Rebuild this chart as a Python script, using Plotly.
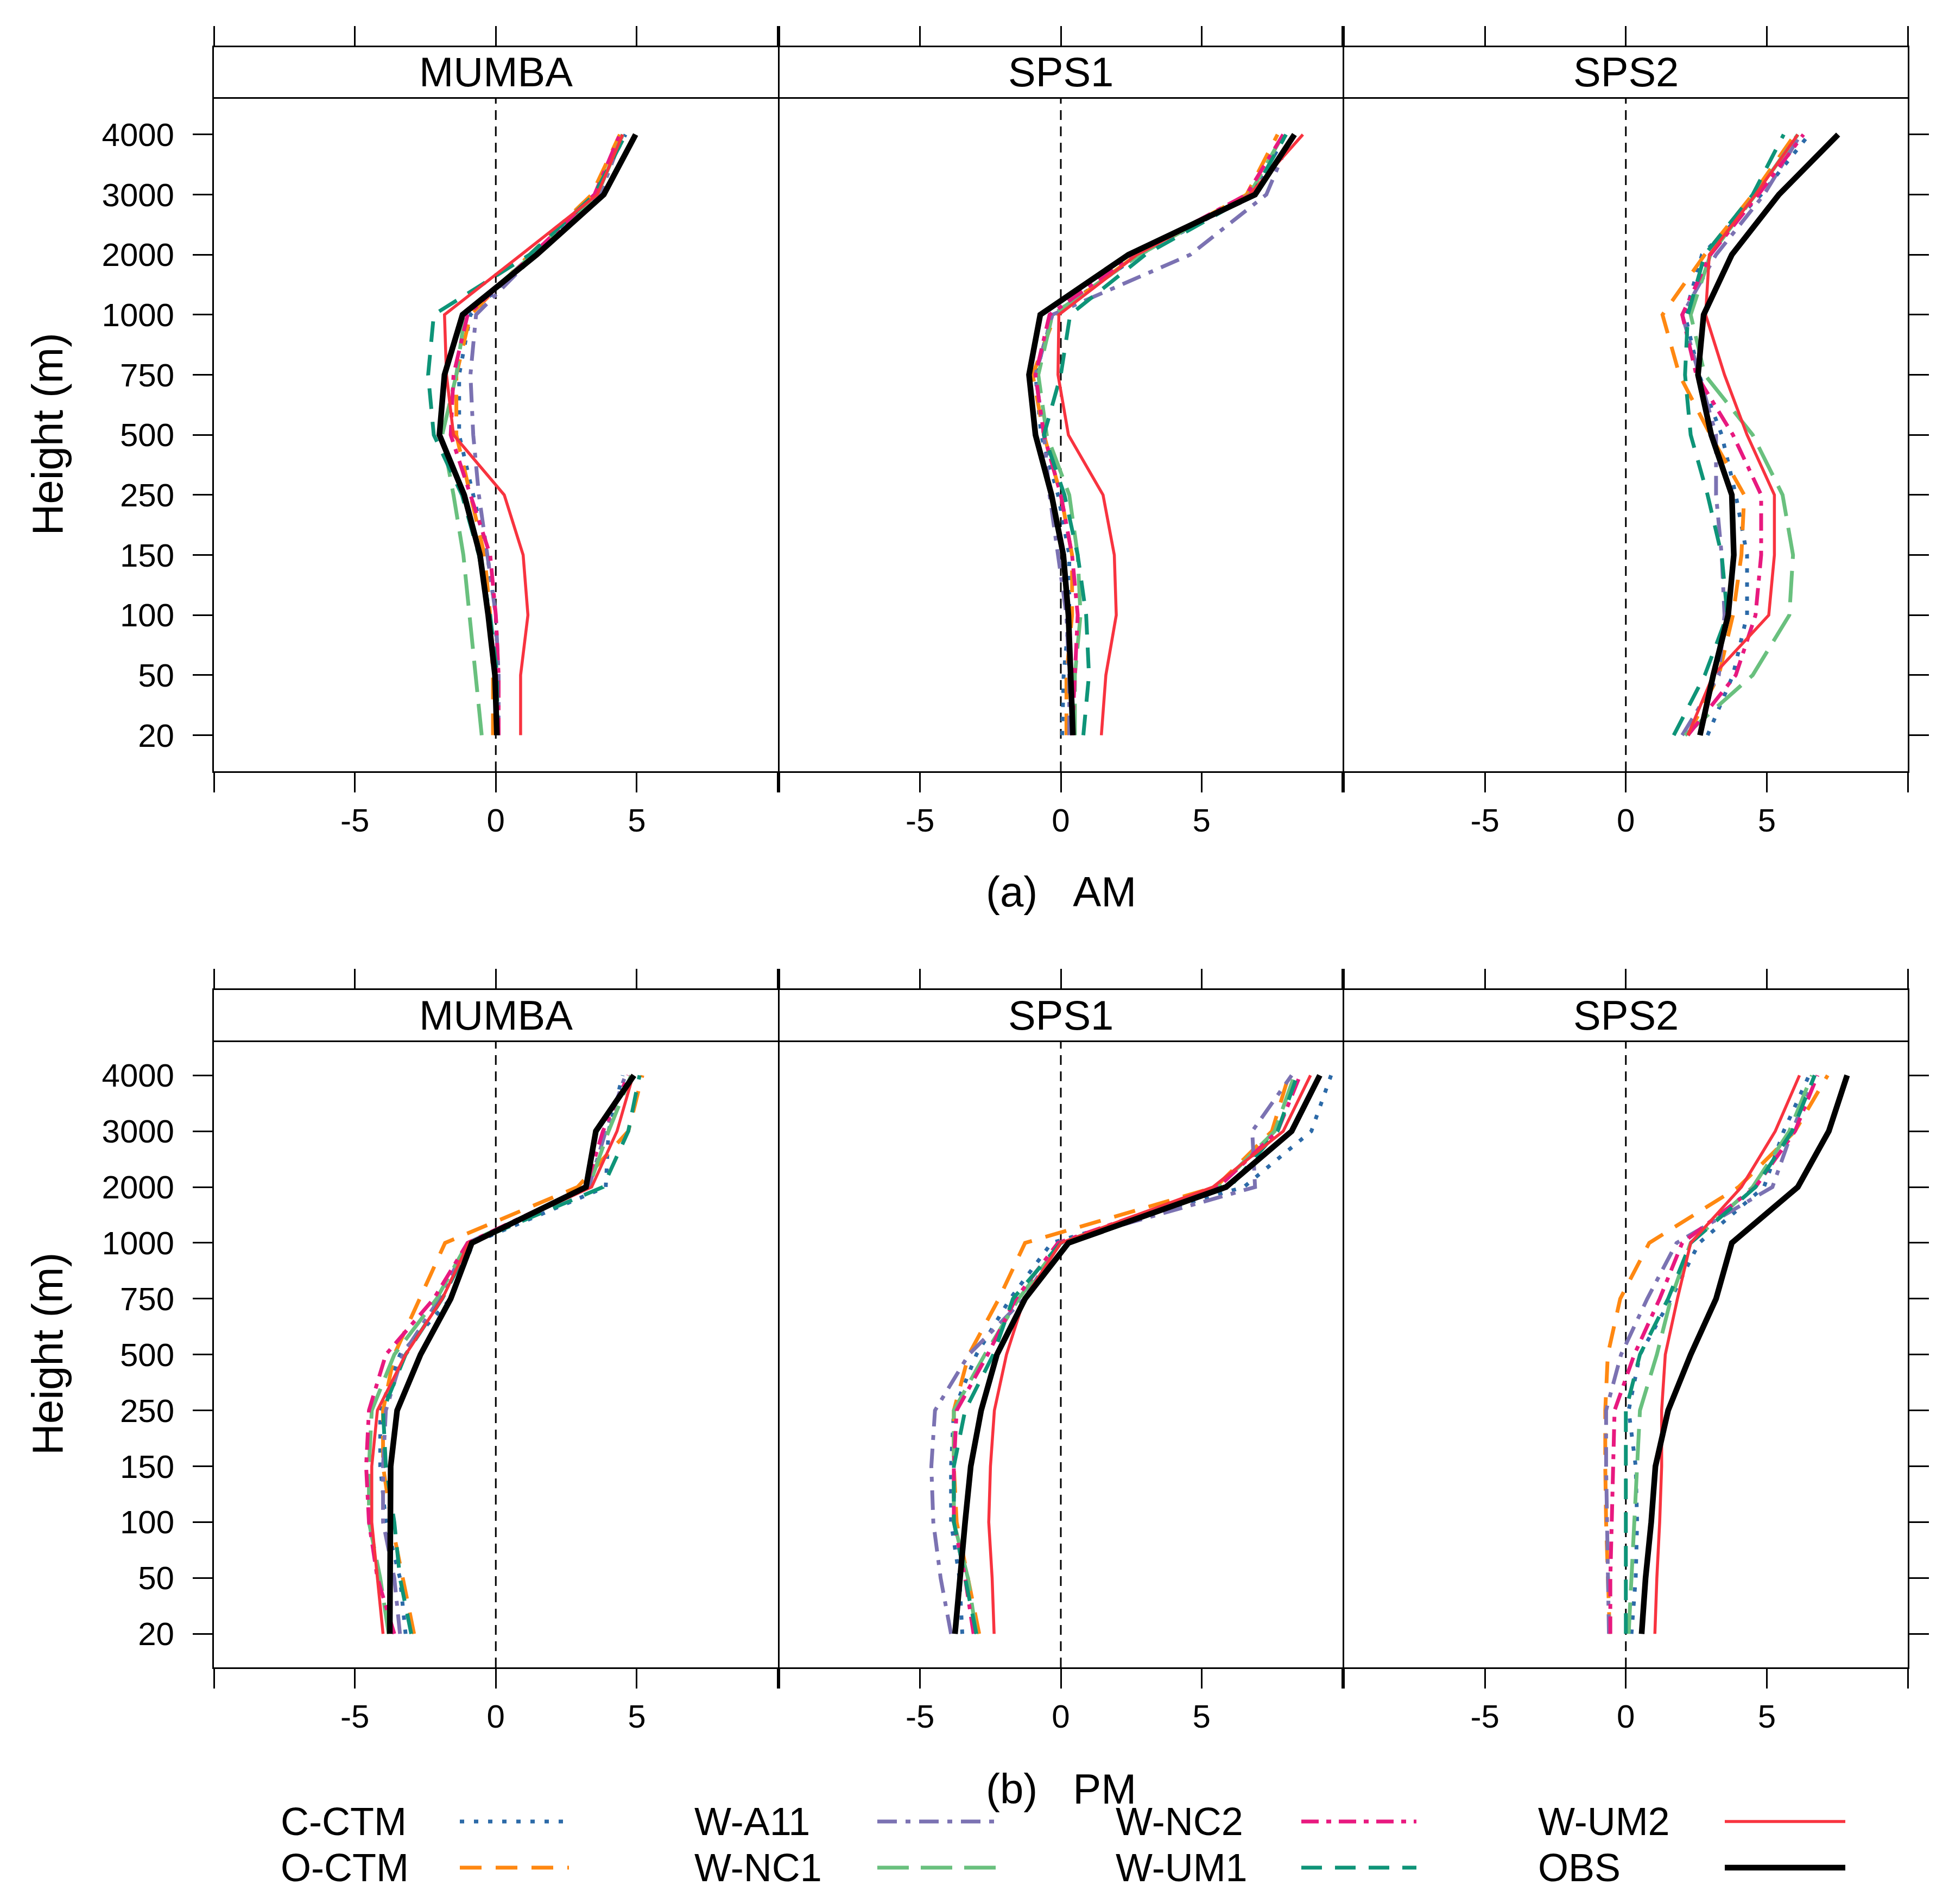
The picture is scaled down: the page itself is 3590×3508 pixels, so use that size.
import plotly.graph_objects as go

W, H = 3590, 3508

heights = ["20", "50", "100", "150", "250", "500", "750", "1000", "2000", "3000", "4000"]
sites = ["MUMBA", "SPS1", "SPS2"]
period_labels = ["(a)\u00a0\u00a0\u00a0AM", "(b)\u00a0\u00a0\u00a0PM"]
models = ["C-CTM", "O-CTM", "W-A11", "W-NC1", "W-NC2", "W-UM1", "W-UM2", "OBS"]
x_tick_vals = [-5, 0, 5]
x_tick_text = ["-5", "0", "5"]
x_edge_ticks = [-10, 10]

# values listed from 20 m up to 4000 m
am_mumba = {
    "C-CTM": [0.0, 0.05, 0.0, -0.3, -0.8, -1.3, -1.3, -0.9, 1.3, 3.5, 4.6],
    "O-CTM": [-0.1, -0.1, -0.2, -0.4, -0.9, -1.4, -1.4, -0.9, 1.2, 3.4, 4.4],
    "W-A11": [0.1, 0.1, 0.0, -0.3, -0.6, -0.8, -0.9, -0.7, 1.4, 3.7, 4.5],
    "W-NC1": [-0.5, -0.72, -0.95, -1.15, -1.5, -1.9, -1.4, -1.1, 1.3, 3.6, 4.5],
    "W-NC2": [0.1, 0.1, 0.0, -0.2, -0.9, -1.6, -1.5, -1.0, 1.3, 3.5, 4.4],
    "W-UM1": [0.05, 0.05, -0.2, -0.6, -1.2, -2.2, -2.4, -2.2, 1.2, 3.5, 4.6],
    "W-UM2": [0.88, 0.88, 1.14, 0.97, 0.3, -1.5, -1.75, -1.82, 0.9, 3.6, 4.5],
    "OBS":   [0.04, -0.03, -0.27, -0.56, -1.12, -2.0, -1.82, -1.18, 1.45, 3.83, 4.96],
}
am_sps1 = {
    "C-CTM": [0.05, 0.1, 0.3, 0.3, -0.1, -0.7, -0.9, -0.3, 2.8, 6.8, 8.0],
    "O-CTM": [0.2, 0.2, 0.4, 0.4, 0.0, -0.6, -1.0, -0.2, 2.7, 6.6, 7.7],
    "W-A11": [0.3, 0.3, 0.2, -0.1, -0.4, -0.6, -0.9, -0.3, 4.6, 7.3, 8.2],
    "W-NC1": [0.5, 0.5, 0.7, 0.6, 0.3, -0.5, -0.8, -0.3, 2.8, 6.7, 7.9],
    "W-NC2": [0.4, 0.5, 0.6, 0.4, 0.0, -0.6, -0.9, -0.4, 2.6, 6.6, 7.9],
    "W-UM1": [0.8, 1.0, 0.9, 0.6, 0.13, -0.6, 0.0, 0.33, 3.0, 6.8, 8.0],
    "W-UM2": [1.44, 1.6, 1.97, 1.9, 1.5, 0.27, -0.1, -0.07, 2.7, 6.7, 8.6],
    "OBS":   [0.43, 0.37, 0.27, 0.09, -0.33, -0.9, -1.13, -0.73, 2.4, 6.9, 8.3],
}
am_sps2 = {
    "C-CTM": [2.9, 3.8, 4.3, 4.3, 3.9, 3.4, 2.6, 2.1, 2.7, 4.8, 6.5],
    "O-CTM": [2.2, 3.3, 3.8, 4.1, 4.2, 3.0, 1.9, 1.3, 2.8, 4.5, 6.0],
    "W-A11": [2.0, 3.3, 3.5, 3.4, 3.2, 3.2, 2.6, 2.0, 3.2, 4.9, 6.2],
    "W-NC1": [2.1, 4.5, 5.8, 5.93, 5.56, 4.5, 2.8, 2.3, 3.0, 4.6, 6.1],
    "W-NC2": [2.2, 3.9, 4.6, 4.8, 4.8, 3.8, 2.5, 2.0, 3.0, 4.7, 6.3],
    "W-UM1": [1.7, 2.8, 3.6, 3.4, 2.9, 2.3, 2.1, 2.2, 2.8, 4.5, 5.6],
    "W-UM2": [2.2, 3.1, 5.07, 5.27, 5.27, 4.3, 3.5, 2.83, 2.96, 4.6, 6.1],
    "OBS":   [2.63, 3.1, 3.63, 3.83, 3.76, 3.03, 2.56, 2.76, 3.76, 5.43, 7.53],
}
pm_mumba = {
    "C-CTM": [-3.2, -3.4, -3.9, -4.1, -4.1, -3.4, -1.6, -0.8, 3.9, 4.0, 4.5],
    "O-CTM": [-2.9, -3.3, -3.7, -4.0, -4.0, -3.6, -2.7, -1.8, 2.9, 4.7, 5.2],
    "W-A11": [-3.4, -3.6, -4.0, -4.0, -3.9, -3.3, -2.0, -1.0, 3.3, 3.9, 4.6],
    "W-NC1": [-3.8, -4.1, -4.5, -4.5, -4.4, -3.6, -2.1, -1.0, 3.3, 4.0, 4.8],
    "W-NC2": [-3.6, -4.2, -4.5, -4.6, -4.5, -3.9, -2.2, -1.0, 3.2, 3.8, 4.7],
    "W-UM1": [-3.0, -3.4, -3.6, -3.9, -4.0, -3.2, -1.9, -0.9, 3.8, 4.7, 5.1],
    "W-UM2": [-4.0, -4.2, -4.4, -4.4, -4.2, -3.2, -1.9, -0.95, 3.4, 4.3, 4.87],
    "OBS":   [-3.76, -3.76, -3.76, -3.73, -3.5, -2.67, -1.6, -0.85, 3.2, 3.55, 4.9],
}
pm_sps1 = {
    "C-CTM": [-3.5, -3.6, -3.9, -3.9, -3.8, -3.0, -1.8, -0.33, 6.5, 8.9, 9.6],
    "O-CTM": [-2.9, -3.3, -3.7, -3.8, -3.8, -3.27, -2.2, -1.27, 5.5, 7.5, 8.1],
    "W-A11": [-3.9, -4.27, -4.53, -4.6, -4.47, -3.27, -1.3, -0.07, 6.9, 6.8, 8.2],
    "W-NC1": [-3.0, -3.3, -3.8, -3.8, -3.8, -2.7, -1.5, 0.0, 5.6, 7.6, 8.3],
    "W-NC2": [-3.1, -3.4, -3.8, -3.8, -3.7, -2.6, -1.6, -0.1, 5.6, 7.7, 8.5],
    "W-UM1": [-3.0, -3.4, -3.8, -3.8, -3.4, -2.4, -1.7, 0.0, 6.0, 7.7, 8.4],
    "W-UM2": [-2.37, -2.44, -2.56, -2.5, -2.36, -1.93, -1.3, 0.0, 5.4, 7.9, 8.87],
    "OBS":   [-3.76, -3.6, -3.4, -3.2, -2.83, -2.27, -1.27, 0.27, 5.87, 8.2, 9.2],
}
pm_sps2 = {
    "C-CTM": [0.2, 0.35, 0.4, 0.35, 0.1, 0.5, 1.6, 2.6, 4.9, 5.6, 6.5],
    "O-CTM": [-0.57, -0.64, -0.7, -0.73, -0.73, -0.64, -0.2, 0.83, 4.0, 6.0, 7.16],
    "W-A11": [-0.6, -0.64, -0.68, -0.7, -0.7, -0.17, 0.76, 1.8, 5.2, 5.9, 6.7],
    "W-NC1": [0.1, 0.2, 0.3, 0.4, 0.5, 1.1, 1.6, 2.3, 4.5, 5.8, 6.6],
    "W-NC2": [-0.55, -0.55, -0.5, -0.45, -0.4, 0.3, 1.2, 2.0, 4.6, 6.0, 6.8],
    "W-UM1": [0.0, 0.0, 0.0, 0.0, 0.0, 0.5, 1.5, 2.3, 4.6, 5.9, 6.7],
    "W-UM2": [1.03, 1.1, 1.2, 1.27, 1.27, 1.4, 1.83, 2.3, 4.1, 5.3, 6.16],
    "OBS":   [0.56, 0.7, 0.9, 1.05, 1.5, 2.3, 3.2, 3.76, 6.1, 7.2, 7.85],
}
panels = [[am_mumba, am_sps1, am_sps2], [pm_mumba, pm_sps1, pm_sps2]]

colors = {"C-CTM": "#2C6AA8", "O-CTM": "#FF8811", "W-A11": "#7B72B2", "W-NC1": "#69C07E",
          "W-NC2": "#E8197F", "W-UM1": "#0E9478", "W-UM2": "#F8333F", "OBS": "#000000"}
dashes = {"C-CTM": "8px,18px", "O-CTM": "40px,26px", "W-A11": "36px,16px,9px,16px",
          "W-NC1": "58px,22px", "W-NC2": "32px,14px,9px,14px", "W-UM1": "38px,24px",
          "W-UM2": "solid", "OBS": "solid"}
widths = {"C-CTM": 7, "O-CTM": 7, "W-A11": 7, "W-NC1": 7, "W-NC2": 7, "W-UM1": 7,
          "W-UM2": 5.5, "OBS": 10.5}

FONT = "Liberation Sans, Arial, sans-serif"
LW = 3
OFF = 8  # page offset of the figure


def px(x):
    return (x - OFF) / W


def py(y):
    return 1 - (y - OFF) / H


def sfx(k):
    return "" if k == 1 else str(k)


col_edges = [394, 1434, 2474, 3514]
row_plot = [(180, 1421), (1918, 3072)]
row_strip = [(87, 180), (1824, 1918)]

fig = go.Figure()
layout = dict(width=W, height=H, margin=dict(l=0, r=0, t=0, b=0),
              paper_bgcolor="white", plot_bgcolor="white", showlegend=False,
              font=dict(family=FONT, color="black"))
shapes = []
annotations = []
tickfont = dict(size=60, family=FONT, color="black")

for r in range(2):
    for c in range(3):
        k = r * 3 + c + 1
        ks = k + 6
        s, ss = sfx(k), sfx(ks)
        x0 = col_edges[c] + (LW / 2 if c > 0 else 0)
        x1 = col_edges[c + 1] - (LW / 2 if c < 2 else 0)
        xd = [px(x0), px(x1)]
        t, b = row_plot[r]
        st, sb = row_strip[r]
        yd = [py(b), py(t + LW / 2)]
        sd = [py(sb - LW / 2), py(st)]
        data = panels[r][c]
        for m in models:
            fig.add_trace(go.Scatter(
                x=data[m], y=heights, mode="lines", name=m,
                line=dict(color=colors[m], width=widths[m], dash=dashes[m]),
                xaxis=f"x{s}", yaxis=f"y{s}", showlegend=False))
        fig.add_trace(go.Scatter(x=[None], y=[None], xaxis=f"x{ss}", yaxis=f"y{ss}",
                                 showlegend=False, hoverinfo="skip"))
        minor = dict(tickmode="array", tickvals=x_edge_ticks, ticks="outside", ticklen=36,
                     tickwidth=LW, tickcolor="black", showgrid=False)
        layout[f"xaxis{s}"] = dict(
            domain=xd, anchor=f"y{s}", range=[-10.0, 10.0], tickmode="array",
            tickvals=x_tick_vals, ticktext=x_tick_text, ticks="outside", ticklen=36,
            tickwidth=LW, tickcolor="black", showline=True, linewidth=LW, linecolor="black",
            mirror=True, showgrid=False, zeroline=False, tickfont=tickfont, minor=minor)
        yax = dict(
            domain=yd, anchor=f"x{s}", type="category", categoryorder="array",
            categoryarray=heights, range=[-0.6, 10.6], showline=True, linewidth=LW,
            linecolor="black", mirror=True, showgrid=False, zeroline=False,
            tickfont=tickfont, ticklen=36, tickwidth=LW, tickcolor="black")
        if c == 0:
            yax.update(ticks="outside", showticklabels=True, side="left", ticklabelstandoff=22)
        elif c == 2:
            yax.update(ticks="outside", showticklabels=False, side="right")
        else:
            yax.update(ticks="", showticklabels=False)
        layout[f"yaxis{s}"] = yax
        layout[f"xaxis{ss}"] = dict(
            domain=xd, anchor=f"y{ss}", side="top", range=[-10.0, 10.0], tickmode="array",
            tickvals=x_tick_vals, ticks="outside", ticklen=36, tickwidth=LW, tickcolor="black",
            showticklabels=False, showline=True, linewidth=LW, linecolor="black", mirror=True,
            showgrid=False, zeroline=False, fixedrange=True, minor=minor)
        layout[f"yaxis{ss}"] = dict(
            domain=sd, anchor=f"x{ss}", range=[0, 1], showline=True, linewidth=LW,
            linecolor="black", mirror=True, showgrid=False, zeroline=False, ticks="",
            showticklabels=False, fixedrange=True)
        shapes.append(dict(type="line", xref=f"x{s}", yref=f"y{s} domain", x0=0, x1=0,
                           y0=0, y1=1, layer="below",
                           line=dict(color="black", width=3, dash="18px,12px")))
        annotations.append(dict(text=sites[c], xref="paper", yref="paper",
                                x=(xd[0] + xd[1]) / 2, y=(sd[0] + sd[1]) / 2,
                                xanchor="center", yanchor="middle", showarrow=False,
                                font=dict(size=76, family=FONT, color="black")))
    annotations.append(dict(text="Height (m)", xref="paper", yref="paper", x=px(87),
                            y=py((row_plot[r][0] + row_plot[r][1]) / 2), textangle=-90,
                            xanchor="center", yanchor="middle", showarrow=False,
                            font=dict(size=80, family=FONT, color="black")))

mid_x = px((col_edges[0] + col_edges[3]) / 2)
annotations.append(dict(text=period_labels[0], xref="paper", yref="paper", x=mid_x, y=py(1643),
                        xanchor="center", yanchor="middle", showarrow=False,
                        font=dict(size=78, family=FONT, color="black")))
annotations.append(dict(text=period_labels[1], xref="paper", yref="paper", x=mid_x, y=py(3296),
                        xanchor="center", yanchor="middle", showarrow=False,
                        font=dict(size=78, family=FONT, color="black")))

# legend: text followed by line key, 4 columns x 2 rows
leg_text_x = [515, 1277, 2053, 2831]
leg_key_x = [(847, 1048), (1616, 1836), (2397, 2609), (3177, 3399)]
leg_row_y = [3356, 3441]
for i, m in enumerate(models):
    col, row = i // 2, i % 2
    yy = py(leg_row_y[row])
    annotations.append(dict(text=m, xref="paper", yref="paper", x=px(leg_text_x[col]), y=yy,
                            xanchor="left", yanchor="middle", showarrow=False,
                            font=dict(size=72, family=FONT, color="black")))
    shapes.append(dict(type="line", xref="paper", yref="paper",
                       x0=px(leg_key_x[col][0]), x1=px(leg_key_x[col][1]), y0=yy, y1=yy,
                       line=dict(color=colors[m], width=widths[m], dash=dashes[m])))

layout["shapes"] = shapes
layout["annotations"] = annotations
fig.update_layout(**layout)
fig.write_html("out.html")
